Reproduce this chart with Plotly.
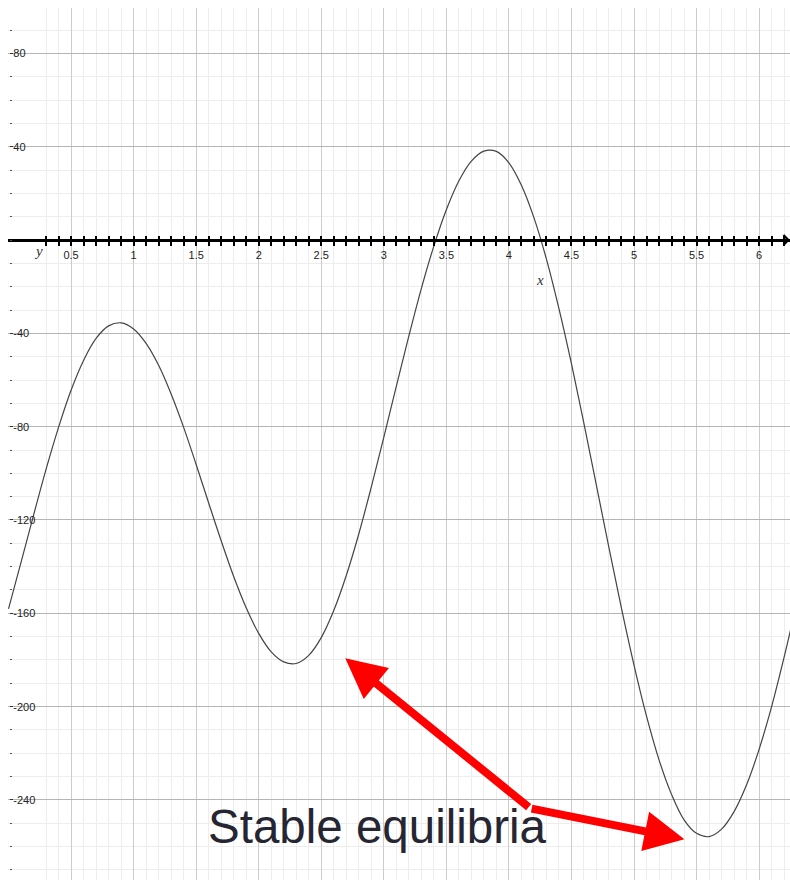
import plotly.graph_objects as go

# Curve values (x step 0.1)
x_vals = [0.0, 0.1, 0.2, 0.3, 0.4, 0.5, 0.6, 0.7, 0.8, 0.9,
          1.0, 1.1, 1.2, 1.3, 1.4, 1.5, 1.6, 1.7, 1.8, 1.9,
          2.0, 2.1, 2.2, 2.3, 2.4, 2.5, 2.6, 2.7, 2.8, 2.9,
          3.0, 3.1, 3.2, 3.3, 3.4, 3.5, 3.6, 3.7, 3.8, 3.9,
          4.0, 4.1, 4.2, 4.3, 4.4, 4.5, 4.6, 4.7, 4.8, 4.9,
          5.0, 5.1, 5.2, 5.3, 5.4, 5.5, 5.6, 5.7, 5.8, 5.9,
          6.0, 6.1, 6.2, 6.3]
y_vals = [-158.1, -138.2, -118.0, -98.3, -80.3, -64.4, -51.6, -42.2, -36.8, -35.5,
          -38.1, -44.3, -53.7, -66.0, -80.3, -96.2, -112.7, -128.9, -144.2, -157.6,
          -168.6, -176.5, -180.8, -181.5, -178.0, -170.4, -158.8, -143.8, -126.0, -105.9,
          -84.6, -62.7, -41.2, -20.8, -2.6, 13.0, 25.3, 33.8, 38.1, 38.0,
          33.1, 23.5, 9.6, -8.2, -29.4, -53.0, -78.7, -105.3, -131.9, -157.9,
          -182.2, -204.1, -222.8, -237.6, -248.5, -254.3, -255.7, -252.5, -245.0, -233.5,
          -218.3, -200.0, -178.8, -155.9]

x_tick_vals = [0.5, 1, 1.5, 2, 2.5, 3, 3.5, 4, 4.5, 5, 5.5, 6]
x_tick_text = ["0.5", "1", "1.5", "2", "2.5", "3", "3.5", "4", "4.5", "5", "5.5", "6"]
y_tick_vals = [80, 40, -40, -80, -120, -160, -200, -240]
y_tick_text = ["80", "40", "-40", "-80", "-120", "-160", "-200", "-240"]

annotation_text = "Stable equilibria"
eq_left = (2.692, -179.3)    # arrow tip near first stable equilibrium
eq_right = (5.403, -256.8)   # arrow tip near second stable equilibrium
arrow_tail = (4.17, -243.6)

X_RANGE = [-0.004, 6.247]
Y_RANGE = [-274.3, 99.44]
x_axis_pos = (0 - Y_RANGE[0]) / (Y_RANGE[1] - Y_RANGE[0])
y_axis_pos = (0 - X_RANGE[0]) / (X_RANGE[1] - X_RANGE[0])

tick_font = dict(family="Liberation Sans Narrow, Arial Narrow, Liberation Sans, Arial",
                 size=11, color="#222222")

fig = go.Figure()
fig.add_trace(go.Scatter(
    x=x_vals, y=y_vals, mode="lines",
    line=dict(color="#444444", width=1.2, shape="spline", smoothing=1.0),
    hoverinfo="skip", showlegend=False))
# dummy trace for the overlay axis that carries the upper halves of the ticks
fig.add_trace(go.Scatter(x=[None], y=[None], xaxis="x2", mode="lines", showlegend=False))

fig.update_layout(
    width=790, height=880,
    margin=dict(l=8, r=0, t=8, b=0),
    paper_bgcolor="white", plot_bgcolor="white",
    showlegend=False,
    xaxis=dict(
        range=X_RANGE, anchor="free", position=x_axis_pos,
        showline=True, linecolor="black", linewidth=2.5,
        ticks="outside", ticklen=4, tickwidth=1.5, tickcolor="black",
        tickvals=x_tick_vals, ticktext=x_tick_text, tickfont=tick_font,
        showgrid=True, gridcolor="#cccccc", gridwidth=1,
        minor=dict(dtick=0.1, tick0=0, ticks="outside", ticklen=4, tickwidth=1.5,
                   tickcolor="black", showgrid=True, gridcolor="#ededed", gridwidth=1),
        zeroline=False, fixedrange=True,
    ),
    xaxis2=dict(
        range=X_RANGE, overlaying="x", anchor="free", position=x_axis_pos,
        showline=False, ticks="inside", ticklen=4, tickwidth=1.5, tickcolor="black",
        dtick=0.1, tick0=0, showticklabels=False, showgrid=False, zeroline=False,
    ),
    yaxis=dict(
        range=Y_RANGE, anchor="free", position=y_axis_pos,
        showline=False, ticks="inside", ticklen=3, tickwidth=1.2, tickcolor="#333333",
        ticklabelposition="inside",
        tickvals=y_tick_vals, ticktext=y_tick_text, tickfont=tick_font,
        showgrid=True, gridcolor="#b5b5b5", gridwidth=1.2,
        minor=dict(dtick=10, tick0=0, ticks="inside", ticklen=2, tickwidth=1.2,
                   tickcolor="#555555", showgrid=True, gridcolor="#ededed", gridwidth=1),
        zeroline=False, fixedrange=True,
    ),
)

annotations = [
    dict(x=0.236, y=-4.7, xref="x", yref="y", text="<i>y</i>", showarrow=False,
         font=dict(family="Liberation Serif, DejaVu Serif, serif", size=15, color="#333333"),
         xanchor="center", yanchor="middle"),
    dict(x=4.246, y=-17, xref="x", yref="y", text="<i>x</i>", showarrow=False,
         font=dict(family="Liberation Serif, DejaVu Serif, serif", size=15, color="#333333"),
         xanchor="center", yanchor="middle"),
    # small arrow at the right end of the x axis
    dict(x=X_RANGE[1], y=0, xref="x", yref="y", ax=-10, ay=0,
         text="", showarrow=True, arrowhead=4, arrowsize=1.6, arrowwidth=1.2,
         arrowcolor="black"),
    dict(x=eq_left[0], y=eq_left[1], xref="x", yref="y",
         ax=arrow_tail[0], ay=arrow_tail[1], axref="x", ayref="y",
         text="", showarrow=True, arrowhead=2, arrowsize=1, arrowwidth=8,
         arrowcolor="#ff0000"),
    dict(x=eq_right[0], y=eq_right[1], xref="x", yref="y",
         ax=arrow_tail[0], ay=arrow_tail[1], axref="x", ayref="y",
         text="", showarrow=True, arrowhead=2, arrowsize=1, arrowwidth=8,
         arrowcolor="#ff0000"),
    dict(x=2.95, y=-251.3, xref="x", yref="y", text=annotation_text, showarrow=False,
         font=dict(family="Liberation Sans, Arial, sans-serif", size=47.5, color="#262633"),
         xanchor="center", yanchor="middle"),
]
fig.update_layout(annotations=annotations)

fig.write_html(
    "out.html",
    config={"displayModeBar": False},
    post_script="document.body.style.margin='0';document.body.style.overflow='hidden';",
)
